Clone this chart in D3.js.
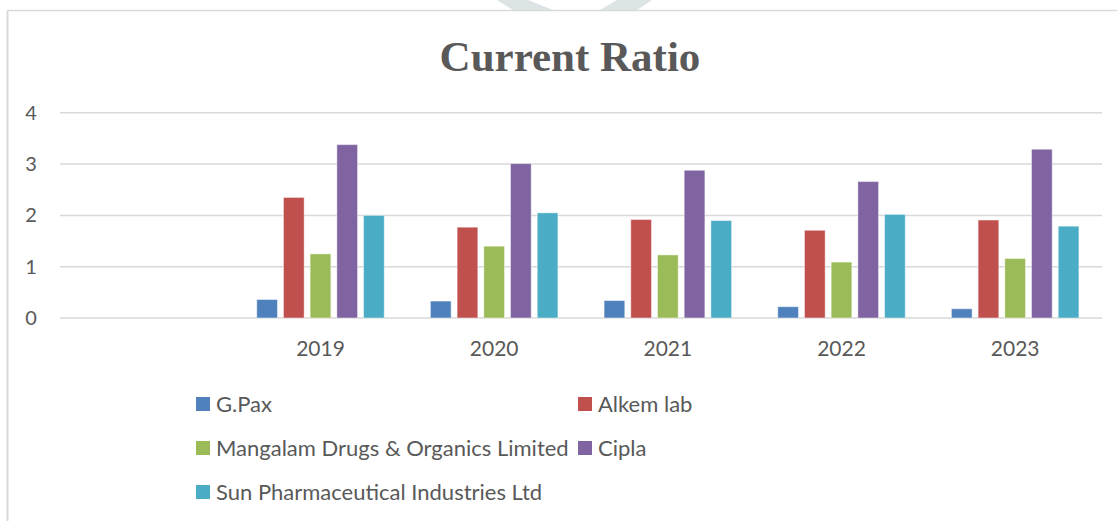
<!DOCTYPE html>
<html lang="en">
<head>
  <meta charset="UTF-8">
  <title>Current Ratio</title>
  <script src="https://d3js.org/d3.v7.min.js"></script>
  <style>
    body { margin: 0; background: #fff; }
    svg { display: block; }
  </style>
</head>
<body>
<svg width="1117" height="521"></svg>
<script>
const years = ["", "2019", "2020", "2021", "2022", "2023"];
const series = ["G.Pax", "Alkem lab", "Mangalam Drugs & Organics Limited", "Cipla", "Sun Pharmaceutical Industries Ltd"];
const gpax     = [null, 0.36, 0.33, 0.34, 0.22, 0.18];
const alkem    = [null, 2.35, 1.77, 1.92, 1.71, 1.91];
const mangalam = [null, 1.25, 1.40, 1.23, 1.09, 1.16];
const cipla    = [null, 3.38, 3.01, 2.88, 2.66, 3.29];
const sun      = [null, 2.00, 2.05, 1.90, 2.02, 1.79];
const yTicks = [0, 1, 2, 3, 4];
const colors = ["#4F81BD", "#C0504D", "#9BBB59", "#8064A2", "#4BACC6"];

const values = [gpax, alkem, mangalam, cipla, sun];
const svg = d3.select("svg");
const font = "Lato, 'Open Sans', sans-serif";

// faint watermark at the top
svg.append("path").attr("d", "M497,0 L528,0 L553,10 L513,10 Z").attr("fill", "#dde4e6");
svg.append("path").attr("d", "M617,0 L652,0 L637,10 L600,10 Z").attr("fill", "#dde4e6");

// chart frame
svg.append("line").attr("x1", 7.5).attr("x2", 1117).attr("y1", 10.5).attr("y2", 10.5)
  .attr("stroke", "#d9d9d9").attr("stroke-width", 1.5);
svg.append("line").attr("x1", 7.5).attr("x2", 7.5).attr("y1", 10.5).attr("y2", 521)
  .attr("stroke", "#d9d9d9").attr("stroke-width", 2);

svg.append("text")
  .attr("x", 570).attr("y", 71)
  .attr("text-anchor", "middle")
  .attr("font-family", "'Liberation Serif', 'Times New Roman', serif")
  .attr("font-weight", "bold")
  .attr("font-size", 43)
  .attr("fill", "#595959")
  .text("Current Ratio");

const x = d3.scaleBand().domain(years).range([60, 1102]);
const y = d3.scaleLinear().domain([0, 4]).range([318, 112.8]);

const inner = (x.bandwidth() - 127.5) / 2;
const x1 = d3.scaleBand().domain(series)
  .range([inner, x.bandwidth() - inner])
  .paddingInner(0.225).paddingOuter(0);

// gridlines
svg.append("g").selectAll("line").data(yTicks).join("line")
  .attr("x1", 60).attr("x2", 1102)
  .attr("y1", d => y(d)).attr("y2", d => y(d))
  .attr("stroke", "#d9d9d9").attr("stroke-width", 1.5);

// y labels
svg.append("g").selectAll("text").data(yTicks).join("text")
  .attr("x", 31).attr("y", d => y(d) + 7)
  .attr("text-anchor", "middle")
  .attr("font-family", font).attr("font-size", 20).attr("fill", "#595959")
  .text(d => d);

// x labels
svg.append("g").selectAll("text").data(years).join("text")
  .attr("x", d => x(d) + x.bandwidth() / 2).attr("y", 356)
  .attr("text-anchor", "middle")
  .attr("font-family", font).attr("font-size", 21).attr("fill", "#595959")
  .text(d => d);

// bars
const bars = [];
series.forEach((s, i) => {
  years.forEach((yr, j) => {
    if (values[i][j] != null) bars.push({ s, i, yr, v: values[i][j] });
  });
});

svg.append("g").selectAll("rect").data(bars).join("rect")
  .attr("x", d => x(d.yr) + x1(d.s))
  .attr("y", d => y(d.v))
  .attr("width", x1.bandwidth())
  .attr("height", d => y(0) - y(d.v))
  .attr("fill", d => colors[d.i])
  .attr("stroke", "rgba(255,255,255,0.45)")
  .attr("stroke-width", 1);

// legend
const legendPos = [
  { x: 196, y: 404 }, { x: 578, y: 404 },
  { x: 196, y: 448 }, { x: 578, y: 448 },
  { x: 196, y: 492 }
];
const lg = svg.append("g").selectAll("g").data(series).join("g")
  .attr("transform", (d, i) => `translate(${legendPos[i].x},${legendPos[i].y})`);
lg.append("rect").attr("x", 0).attr("y", -7).attr("width", 14).attr("height", 14)
  .attr("fill", (d, i) => colors[i]);
lg.append("text").attr("x", 20).attr("y", 8)
  .attr("font-family", font).attr("font-size", 22).attr("fill", "#595959")
  .text(d => d);
</script>
</body>
</html>
